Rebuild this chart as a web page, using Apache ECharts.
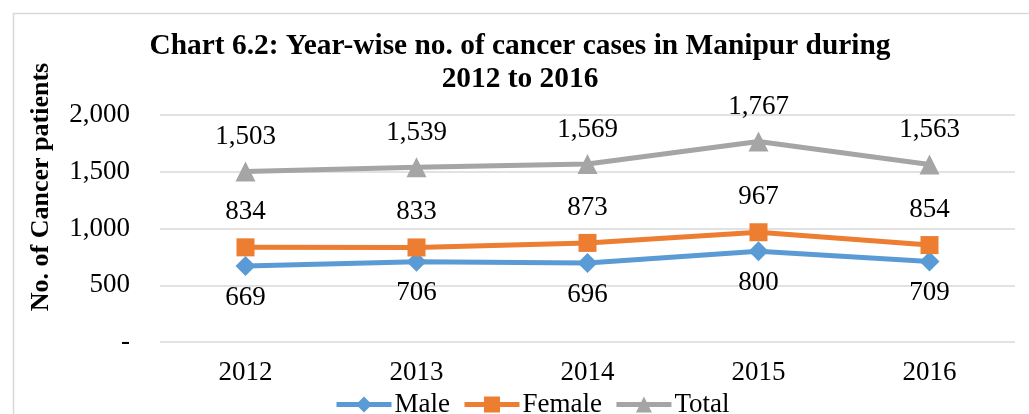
<!DOCTYPE html>
<html>
<head>
<meta charset="utf-8">
<script src="https://cdn.jsdelivr.net/npm/echarts@6/dist/echarts.min.js"></script>
<style>
html,body{margin:0;padding:0;background:#fff;}
#chart{width:1029px;height:414px;}
</style>
</head>
<body>
<div id="chart"></div>
<script>
const categories = ['2012','2013','2014','2015','2016'];
const male = [669, 706, 696, 800, 709];
const female = [834, 833, 873, 967, 854];
const total = [1503, 1539, 1569, 1767, 1563];
const yTicks = [0, 500, 1000, 1500, 2000];
const yTitle = 'No. of Cancer patients';

const FONT = '"Liberation Serif", "Times New Roman", serif';
const fmt = v => v === 0 ? '-' : v.toLocaleString('en-US');

const chart = echarts.init(document.getElementById('chart'), null, {renderer:'canvas'});
const labelStyle = {fontFamily: FONT, fontSize: 27, color: '#000'};
chart.setOption({
  animation: false,
  backgroundColor: '#fff',
  graphic: [{
    type: 'rect', left: 11, top: 11,
    shape: {width: 1040, height: 430},
    style: {fill: 'none', stroke: '#D9D9D9', lineWidth: 1.5},
    silent: true, z: -1
  }, {
    type: 'text', x: 41, y: 187, rotation: Math.PI / 2,
    style: {text: yTitle, fontFamily: FONT, fontSize: 26, fontWeight: 'bold', fill: '#000',
            textAlign: 'center', textVerticalAlign: 'middle'},
    silent: true
  }],
  title: {
    text: 'Chart 6.2: Year-wise no. of cancer cases in Manipur during\n2012 to 2016',
    left: 515, top: 25, textAlign: 'center',
    textStyle: {fontFamily: FONT, fontSize: 29.4, fontWeight: 'bold', color: '#000', lineHeight: 33}
  },
  legend: {
    top: 386, left: 329,
    itemWidth: 55, itemHeight: 20, itemGap: 12,
    lineStyle: {width: 5},
    textStyle: {fontFamily: FONT, fontSize: 27, color: '#000', padding: [0,0,0,-2]},
    data: ['Male','Female','Total']
  },
  grid: {left: 160, right: 14, top: 115, bottom: 72, containLabel: false},
  xAxis: {
    type: 'category', data: categories, boundaryGap: true,
    axisLine: {show: false}, axisTick: {show: false},
    axisLabel: {fontFamily: FONT, fontSize: 27, color: '#000', margin: 17}
  },
  yAxis: {
    type: 'value', min: yTicks[0], max: yTicks[yTicks.length-1], interval: 500,
    axisLine: {show: false}, axisTick: {show: false},
    splitLine: {lineStyle: {color: '#D9D9D9', width: 1.5}},
    axisLabel: {fontFamily: FONT, fontSize: 27, color: '#000', margin: 30, formatter: fmt}
  },
  series: [
    {
      name: 'Male', type: 'line', data: male,
      symbol: 'diamond', symbolSize: 20,
      lineStyle: {color: '#5B9BD5', width: 5}, itemStyle: {color: '#5B9BD5'},
      label: {show: true, position: 'bottom', distance: 8, formatter: p => fmt(p.value), ...labelStyle}
    },
    {
      name: 'Female', type: 'line', data: female,
      symbol: 'rect', symbolSize: 18,
      lineStyle: {color: '#ED7D31', width: 5}, itemStyle: {color: '#ED7D31'},
      label: {show: true, position: 'top', distance: 13, formatter: p => fmt(p.value), ...labelStyle}
    },
    {
      name: 'Total', type: 'line', data: total,
      symbol: 'triangle', symbolSize: 20,
      lineStyle: {color: '#A5A5A5', width: 5}, itemStyle: {color: '#A5A5A5'},
      label: {show: true, position: 'top', distance: 11, formatter: p => fmt(p.value), ...labelStyle}
    }
  ]
});
</script>
</body>
</html>
